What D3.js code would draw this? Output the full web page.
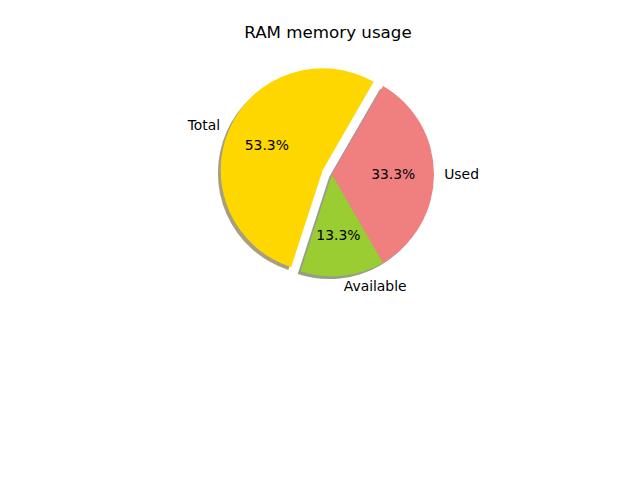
<!DOCTYPE html>
<html>
<head>
<meta charset="utf-8">
<script src="https://cdn.jsdelivr.net/npm/d3@7"></script>
<style>
  body { margin: 0; background: #fff; }
  svg { font-family: "DejaVu Sans", sans-serif; }
</style>
</head>
<body>
<div id="chart"></div>
<script>
// chart data
const labels = ["Total", "Available", "Used"];
const sizes = [8, 2, 5];
const explode = [0.1, 0, 0];
const colors = ["#FFD700", "#9ACD32", "#F08080"];
const title = "RAM memory usage";

const width = 640, height = 480;
const cx = 332, cy = 174.3, radius = 102;
const startDeg = 60; // matplotlib startangle, counterclockwise

const svg = d3.select("#chart").append("svg")
    .attr("width", width)
    .attr("height", height);

svg.append("text")
    .attr("x", 328)
    .attr("y", 38)
    .attr("text-anchor", "middle")
    .style("font-size", "16.7px")
    .text(title);

// d3 angles: 0 at 12 o'clock, clockwise -> go backwards for counterclockwise
let toRad = d => d * Math.PI / 180;
let pie = d3.pie()
    .sort(null)
    .value(d => d.value)
    .startAngle(toRad(90 - startDeg))
    .endAngle(toRad(90 - startDeg - 360));

let data = labels.map((l, i) => ({ label: l, value: sizes[i], explode: explode[i], color: colors[i] }));
let arcs = pie(data);
let total = d3.sum(sizes);

let arc = d3.arc().innerRadius(0).outerRadius(radius);
let pct = d3.format(".1f");

arcs.forEach(a => {
    a.mid = (a.startAngle + a.endAngle) / 2;
    a.ox = Math.sin(a.mid) * radius * a.data.explode;
    a.oy = -Math.cos(a.mid) * radius * a.data.explode;
});

let g = svg.append("g").attr("transform", `translate(${cx},${cy})`);

// shadows first, under all wedges
let shadows = g.append("g").attr("class", "shadows");
shadows.selectAll("path")
    .data(arcs)
    .join("path")
    .attr("d", arc)
    .attr("transform", d => `translate(${d.ox - 2.8},${d.oy + 2.8})`)
    .attr("fill", d => {
        let c = d3.rgb(d.data.color);
        return d3.rgb(c.r * 0.3, c.g * 0.3, c.b * 0.3);
    })
    .attr("fill-opacity", 0.5);

let wedges = g.append("g").attr("class", "wedges");
wedges.selectAll("path")
    .data(arcs)
    .join("path")
    .attr("d", arc)
    .attr("transform", d => `translate(${d.ox},${d.oy})`)
    .attr("fill", d => d.data.color);

// outer labels
g.append("g").selectAll("text")
    .data(arcs)
    .join("text")
    .attr("x", d => d.ox + Math.sin(d.mid) * radius * 1.1)
    .attr("y", d => d.oy - Math.cos(d.mid) * radius * 1.1)
    .attr("text-anchor", d => Math.sin(d.mid) > 0 ? "start" : "end")
    .attr("dominant-baseline", "central")
    .style("font-size", "13.9px")
    .text(d => d.data.label);

// percent labels
g.append("g").selectAll("text")
    .data(arcs)
    .join("text")
    .attr("x", d => d.ox + Math.sin(d.mid) * radius * 0.6)
    .attr("y", d => d.oy - Math.cos(d.mid) * radius * 0.6)
    .attr("text-anchor", "middle")
    .attr("dominant-baseline", "central")
    .style("font-size", "13.9px")
    .text(d => pct(d.value / total * 100) + "%");
</script>
</body>
</html>
